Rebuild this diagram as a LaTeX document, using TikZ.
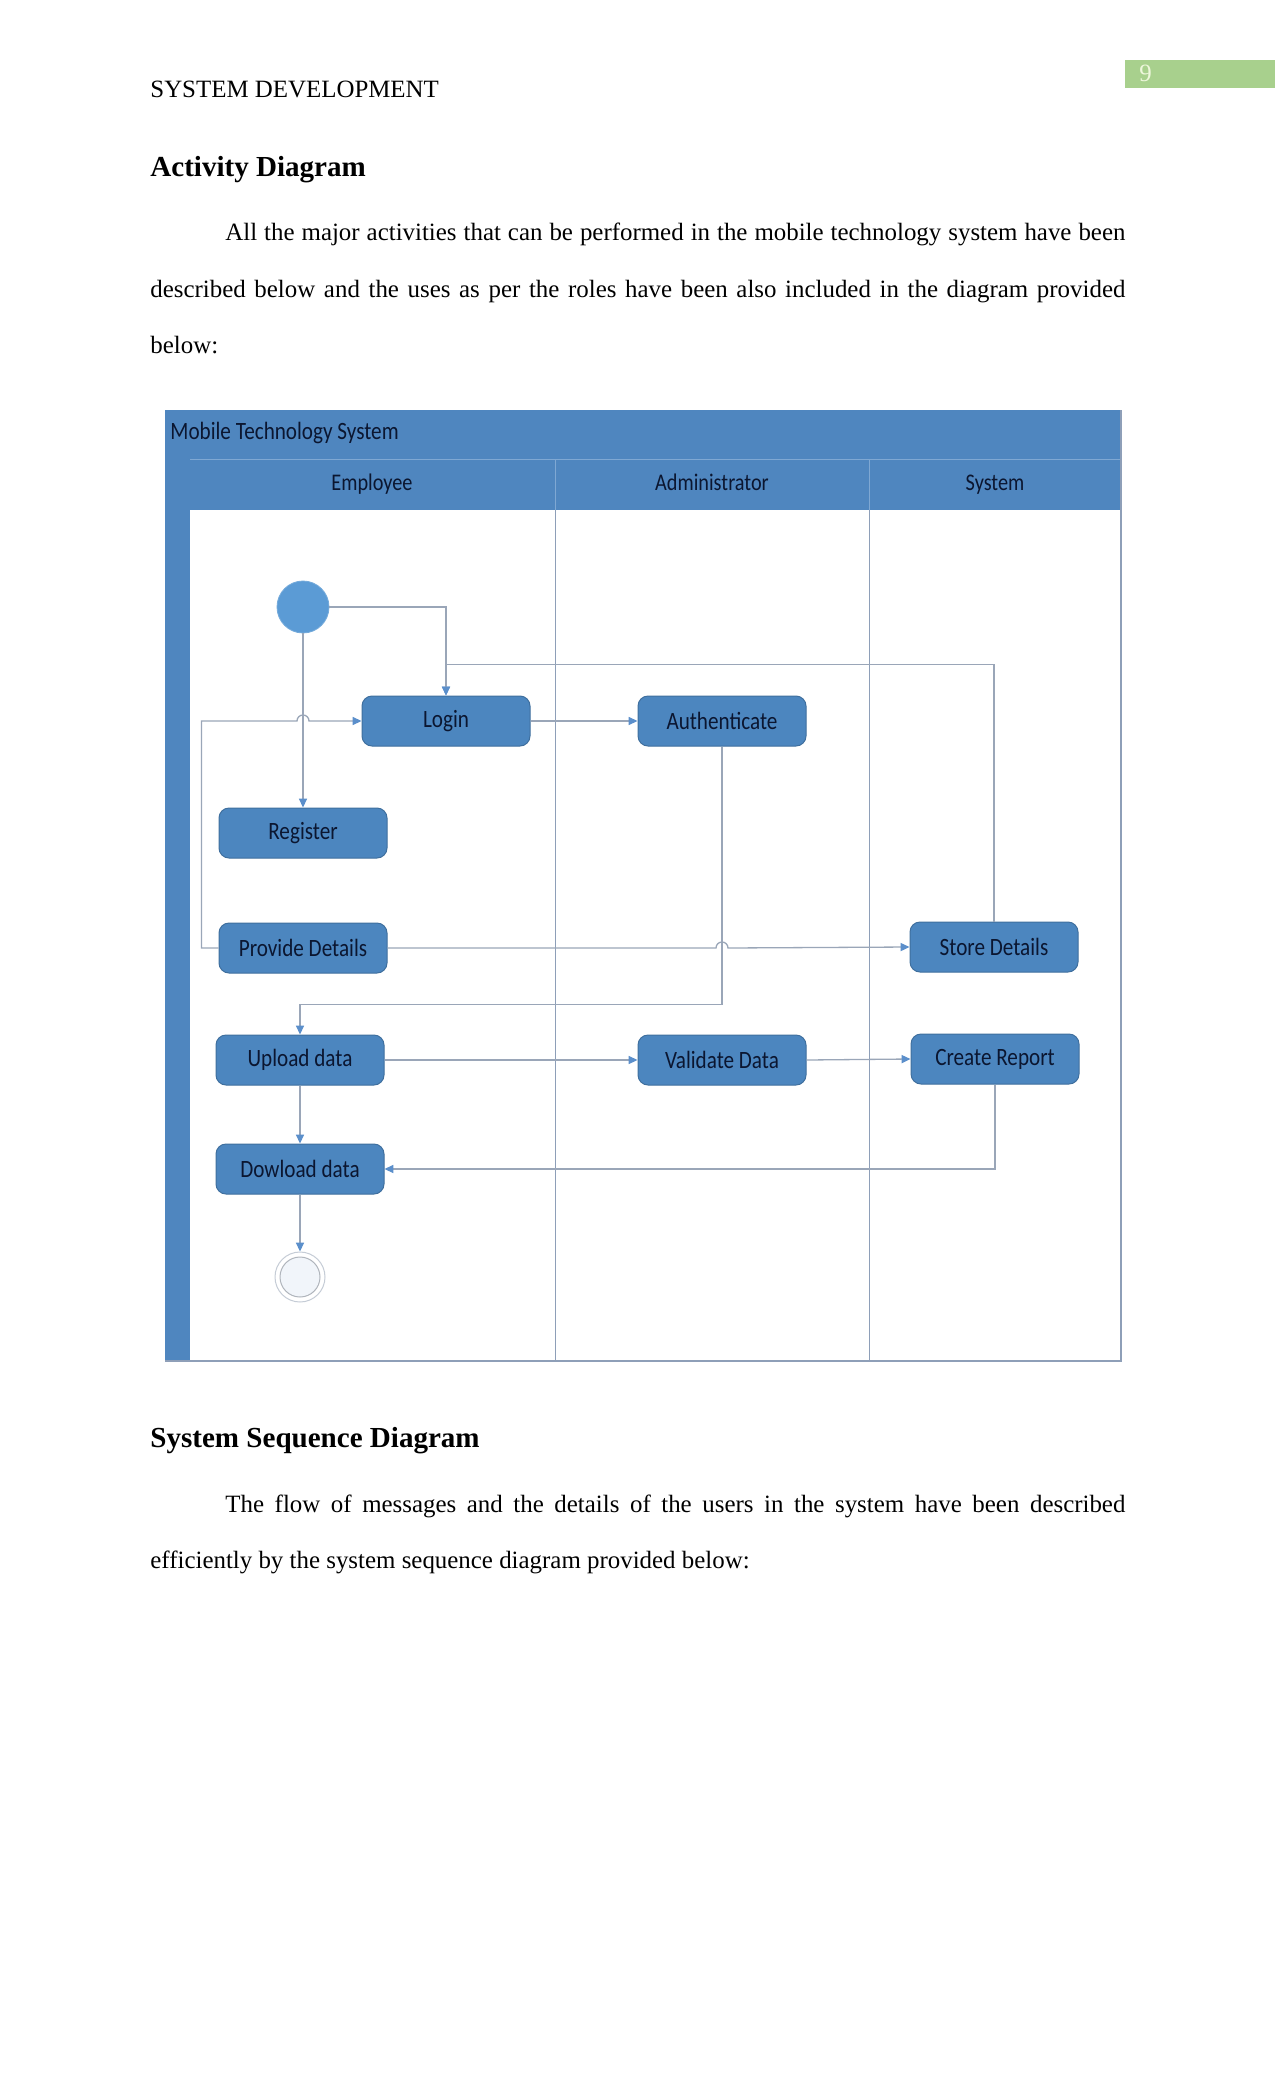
\documentclass[tikz,border=0pt]{standalone}
\usepackage{fontspec}
\setmainfont{Liberation Serif}
\newfontfamily\diafont[FakeStretch=0.85]{Carlito}
\usepackage{tikz}
\usetikzlibrary{arrows.meta, positioning}
\usepackage{xcolor}
\definecolor{lanebar}{HTML}{4F86BF}
\definecolor{laneline}{HTML}{8E9FB8}
\definecolor{headline}{HTML}{7FA8D3}
\definecolor{boxfill}{HTML}{4C86BF}
\definecolor{boxedge}{HTML}{3F6F9E}
\definecolor{boxtext}{HTML}{0B1630}
\definecolor{flowgray}{HTML}{9AA6B8}
\definecolor{tipblue}{HTML}{5B8FCB}
\definecolor{startblue}{HTML}{5B9BD5}
\definecolor{endring}{HTML}{C5CCD6}
\definecolor{endfill}{HTML}{F1F5FA}
\definecolor{pagegreen}{HTML}{A8D08D}
\definecolor{pagetext}{HTML}{EEF7DC}
\newdimen\pxu \pxu=0.4818pt
\tikzset{
  bodytext/.style={inner sep=0pt, font=\fontsize{12}{14}\selectfont},
  headtext/.style={inner sep=0pt, font=\fontsize{14}{16}\selectfont\bfseries},
  titletext/.style={inner sep=0pt, text=boxtext, font=\diafont\fontsize{12}{14}\selectfont},
  lanehead/.style={inner sep=0pt, anchor=base, text=boxtext, font=\diafont\fontsize{11.5}{13}\selectfont},
  actbox/.style={draw=boxedge, line width=1\pxu, rounded corners=10\pxu, fill=boxfill,
                 minimum width=168\pxu, minimum height=50\pxu, inner sep=0pt,
                 text=boxtext, font=\diafont\fontsize{12}{14}\selectfont},
  startdot/.style={circle, fill=startblue, draw=startblue!85!white, minimum size=52\pxu, inner sep=0pt},
  enddot/.style={circle, draw=endring, line width=1\pxu, fill=white, minimum size=50\pxu, inner sep=0pt},
  flow/.style={draw=flowgray, line width=1.3\pxu},
  arr/.style={flow, -{Triangle[length=4.3pt, width=3.9pt, color=tipblue]}},
}

\begin{document}
\begin{tikzpicture}[x=\pxu, y=-\pxu]
  \useasboundingbox[fill=white] (0,0) rectangle (1275,2100);

  % page header and text above
  \fill[pagegreen] (1125,60) rectangle (1275,88);
  \node[bodytext, anchor=base west, text=pagetext] (pno) at (1139,82) {9};
  \node[bodytext, anchor=base west] (runhead) at (150,98) {SYSTEM DEVELOPMENT};
  \node[headtext, anchor=base west] (h1) at (150,177) {Activity Diagram};
  \node[bodytext, anchor=base west] (p1a) at (225,240)
    {\makebox[900\pxu][s]{All the major activities that can be performed in the mobile technology system have been}};
  \node[bodytext, anchor=base west] (p1b) at (150,297)
    {\makebox[975\pxu][s]{described below and the uses as per the roles have been also included in the diagram provided}};
  \node[bodytext, anchor=base west] (p1c) at (150,353) {below:};

  % swimlane frame
  \fill[lanebar] (165,410) rectangle (1121,510);
  \fill[lanebar] (165,459) rectangle (190,1361);
  \fill[white] (190,510) rectangle (1121,1361);
  \draw[headline, line width=1\pxu] (190,459) -- (1121,459);
  \draw[headline, line width=1\pxu] (555,459) -- (555,510) (869,459) -- (869,510);
  \draw[laneline, line width=1\pxu] (555,510) -- (555,1361) (869,510) -- (869,1361);
  \draw[laneline, line width=1.2\pxu] (165,1361) -- (1121,1361) -- (1121,410);

  \node[titletext, anchor=west] (systitle) at (170,433) {Mobile Technology System};
  \node[lanehead] (emp) at (372,490) {Employee};
  \node[lanehead] (adm) at (712,490) {Administrator};
  \node[lanehead] (sys) at (995,490) {System};

  % activities
  \node[startdot] (start) at (303,607) {};
  \node[actbox] (login) at (446,721) {Login};
  \node[actbox, right=107\pxu of login] (auth) {Authenticate};
  \node[actbox] (reg) at (303,833) {Register};
  \node[actbox, below=64\pxu of reg] (prov) {Provide Details};
  \node[actbox] (store) at (994,947) {Store Details};
  \node[actbox] (upload) at (300,1060) {Upload data};
  \node[actbox] (valid) at (722,1060) {Validate Data};
  \node[actbox] (create) at (995,1059) {Create Report};
  \node[actbox, below=58\pxu of upload] (down) {Dowload data};
  \node[enddot, below=57\pxu of down] (end) {};
  \draw[endring!70!gray, line width=1\pxu, fill=endfill] (end.center) circle[radius=20\pxu];

  % flows
  \draw[arr] (start.east) -| (login.north);
  \draw[arr] (start.south) -- (reg.north);
  \draw[arr] (store.north) -- ++(0,-257) -| (login.north);
  \draw[arr] (prov.west) -- ++(-17,0) |- ([xshift=-6\pxu]start.south |- login.west)
    arc[start angle=180, end angle=0, radius=6\pxu] -- (login.west);
  \draw[arr] (login.east) -- (auth.west);
  \draw[arr] (prov.east) -- ([xshift=-6\pxu]auth.south |- prov.east)
    arc[start angle=180, end angle=0, radius=6\pxu] -- (store.west);
  \draw[arr] (auth.south) -- ++(0,258) -| (upload.north);
  \draw[arr] (upload.east) -- (valid.west);
  \draw[arr] (valid.east) -- (create.west);
  \draw[arr] (upload.south) -- (down.north);
  \draw[arr] (create.south) |- (down.east);
  \draw[arr] (down.south) -- (end.north);

  % text below
  \node[headtext, anchor=base west] (h2) at (150,1447) {System Sequence Diagram};
  \node[bodytext, anchor=base west] (p2a) at (225,1512)
    {\makebox[900\pxu][s]{The flow of messages and the details of the users in the system have been described}};
  \node[bodytext, anchor=base west] (p2b) at (150,1568) {efficiently by the system sequence diagram provided below:};
\end{tikzpicture}
\end{document}
